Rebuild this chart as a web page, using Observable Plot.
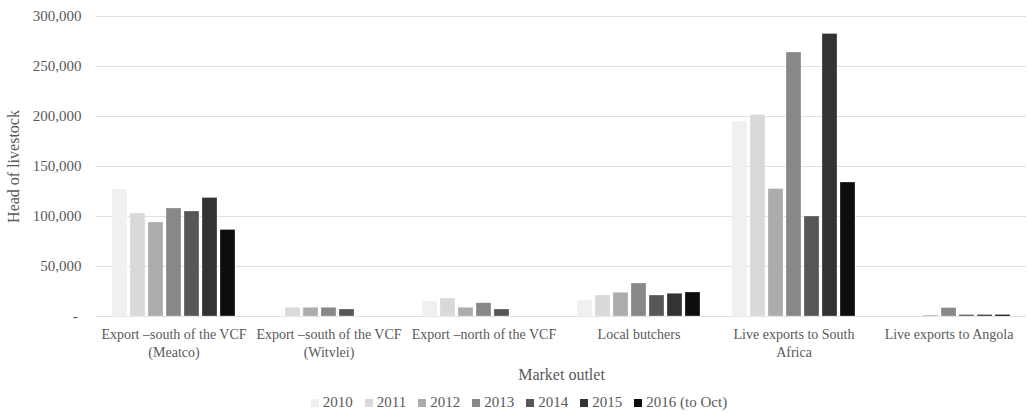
<!DOCTYPE html>
<html>
<head>
<meta charset="utf-8">
<script src="https://cdn.jsdelivr.net/npm/d3@7"></script>
<script src="https://cdn.jsdelivr.net/npm/@observablehq/plot@0.6"></script>
<style>
  html, body { margin: 0; padding: 0; background: #fff; }
  #chart { width: 1028px; font-family: "Liberation Serif", serif; }
  #legend { display: flex; justify-content: center; margin-top: 2px; padding-left: 22px; }
  #legend > div > span { margin-right: 12px !important; }
  #legend > div > span > svg { margin-right: 4px !important; }
</style>
</head>
<body>
<div id="chart"></div>
<script>
// Market outlets (x groups) and year series
const outlets = [
  "Export –south of the VCF\n(Meatco)",
  "Export –south of the VCF\n(Witvlei)",
  "Export –north of the VCF",
  "Local butchers",
  "Live exports to South\nAfrica",
  "Live exports to Angola"
];
const years = ["2010", "2011", "2012", "2013", "2014", "2015", "2016 (to Oct)"];
const yearColors = ["#f0f0f0", "#d9d9d9", "#acacac", "#888888", "#575757", "#333333", "#0d0d0d"];

// Head of livestock per outlet, one array per year
const v2010 = [127000, 0, 15000, 16000, 195000, 0];
const v2011 = [103000, 8700, 18000, 21000, 201500, 0];
const v2012 = [94000, 8700, 8700, 23700, 127500, 1000];
const v2013 = [108000, 8700, 13300, 33000, 264000, 8400];
const v2014 = [105000, 7000, 7000, 21000, 100000, 1500];
const v2015 = [118500, 0, 0, 22700, 282500, 1500];
const v2016 = [86500, 0, 0, 24000, 134000, 1500];

const yTicks = [0, 50000, 100000, 150000, 200000, 250000, 300000];

const series = [v2010, v2011, v2012, v2013, v2014, v2015, v2016];
const rows = [];
series.forEach((vals, i) => {
  vals.forEach((v, j) => rows.push({outlet: outlets[j], year: years[i], value: v}));
});

const textColor = "#595959";
const gridColor = "#e0e0e0";

const chart = Plot.plot({
  width: 1028,
  height: 384,
  marginTop: 16,
  marginLeft: 95,
  marginRight: 0,
  marginBottom: 68,
  style: {fontFamily: "Liberation Serif, serif", fontSize: "15px", color: textColor, background: "#fff"},
  fx: {domain: outlets, paddingInner: 0.165, paddingOuter: 0.082, label: null},
  x: {domain: years, paddingInner: 0.19, paddingOuter: 0, axis: null},
  y: {domain: [0, 300000], label: null},
  color: {domain: years, range: yearColors},
  marks: [
    Plot.ruleY(yTicks, {stroke: gridColor, strokeWidth: 1, insetLeft: -13, insetRight: -13}),
    Plot.barY(rows, {fx: "outlet", x: "year", y: "value", fill: "year", stroke: "#ffffff", strokeOpacity: 0.35, strokeWidth: 0.8}),
    // y tick labels
    Plot.axisY({
      ticks: yTicks,
      tickSize: 0,
      tickPadding: 28,
      tickFormat: d => d === 0 ? "-\u00a0" : d3.format(",")(d),
      fontSize: 15,
      label: null
    }),
    // y title, slightly larger than the tick labels
    Plot.axisY({
      ticks: [],
      fontSize: 16,
      label: "Head of livestock",
      labelAnchor: "center",
      labelArrow: "none",
      labelOffset: 102
    }),
    // outlet names under each group
    Plot.axisFx({
      anchor: "bottom",
      tickSize: 0,
      tickPadding: 10,
      fontSize: 14,
      lineHeight: 1.27,
      label: null
    }),
    // x title
    Plot.axisFx({
      anchor: "bottom",
      ticks: [],
      fontSize: 16,
      label: "Market outlet",
      labelAnchor: "center",
      labelArrow: "none",
      labelOffset: 63
    })
  ]
});

document.getElementById("chart").append(chart);

// Year legend beneath the chart
const legend = Plot.legend({
  color: {domain: years, range: yearColors},
  swatchSize: 8,
  style: {fontFamily: "Liberation Serif, serif", fontSize: "15px", color: textColor}
});
const holder = document.createElement("div");
holder.id = "legend";
holder.append(legend);
document.getElementById("chart").append(holder);
</script>
</body>
</html>
